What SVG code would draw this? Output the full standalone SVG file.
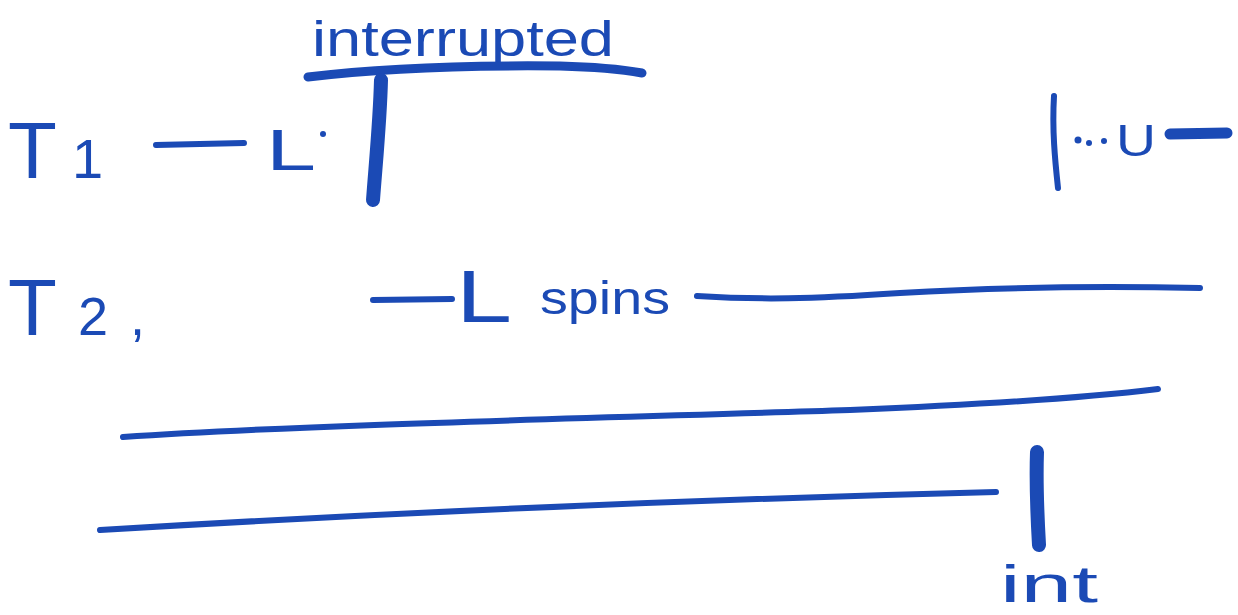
<svg xmlns="http://www.w3.org/2000/svg" width="1238" height="615" viewBox="0 0 1238 615">
  <style>
    .ink { fill: none; stroke: #1b4ab5; stroke-linecap: round; stroke-linejoin: round; }
    .thin { stroke-width: 6; }
    .bold { stroke-width: 14; }
    .label { fill: #1b4ab5; font-family: "Liberation Sans", "DejaVu Sans", sans-serif; }
    .dot { fill: #1b4ab5; }
  </style>
  <rect width="1238" height="615" fill="#ffffff"/>

  <!-- thread T1 row -->
  <g id="t1-label">
    <text class="label" x="8" y="178" font-size="80">T<tspan x="72" font-size="56">1</tspan></text>
  </g>
  <g id="t1-lock">
    <text class="label" x="266" y="170" font-size="58" textLength="50" lengthAdjust="spacingAndGlyphs">L</text>
    <circle class="dot" cx="323" cy="134" r="3"/>
  </g>
  <g id="interrupted-label">
    <text class="label" x="312" y="56" font-size="50" textLength="302" lengthAdjust="spacingAndGlyphs">interrupted</text>
  </g>
  <g id="t1-unlock">
    <circle class="dot" cx="1078" cy="140" r="3.5"/>
    <circle class="dot" cx="1089" cy="143" r="3"/>
    <circle class="dot" cx="1104" cy="141" r="3"/>
    <text class="label" x="1116" y="156" font-size="44" textLength="40" lengthAdjust="spacingAndGlyphs">U</text>
  </g>

  <!-- thread T2 row -->
  <g id="t2-label">
    <text class="label" x="8" y="335" font-size="80">T<tspan x="78" font-size="54">2</tspan><tspan x="130" font-size="54">,</tspan></text>
  </g>
  <g id="t2-lock">
    <text class="label" x="456" y="322" font-size="74" textLength="56" lengthAdjust="spacingAndGlyphs">L</text>
    <text class="label" x="540" y="314" font-size="46" textLength="130" lengthAdjust="spacingAndGlyphs">spins</text>
  </g>

  <g id="int-label">
    <text class="label" x="1000" y="602" font-size="52" textLength="98" lengthAdjust="spacingAndGlyphs">int</text>
  </g>

  <!-- timeline strokes -->
  <g id="connectors">
    <path class="ink bold" d="M308,77 C380,68 460,65 560,66 C600,67 625,70 642,73" style="stroke-width:9"/>
    <path class="ink bold" d="M381,80 C380,120 376,160 373,200"/>
    <path class="ink thin" d="M156,145 L244,143"/>
    <path class="ink thin" d="M1054,96 C1052,130 1055,160 1058,188"/>
    <path class="ink bold" d="M1170,134 L1227,133" style="stroke-width:11"/>
    <path class="ink thin" d="M373,300 L452,299"/>
    <path class="ink thin" d="M697,296 C760,300 810,299 900,293 C1000,287 1100,286 1200,288"/>
    <path class="ink thin" d="M123,437 C300,425 600,418 850,410 C1000,404 1100,396 1158,389"/>
    <path class="ink thin" d="M100,530 C300,518 600,502 996,492"/>
    <path class="ink bold" d="M1037,452 C1036,480 1037,510 1039,545"/>
  </g>
</svg>
